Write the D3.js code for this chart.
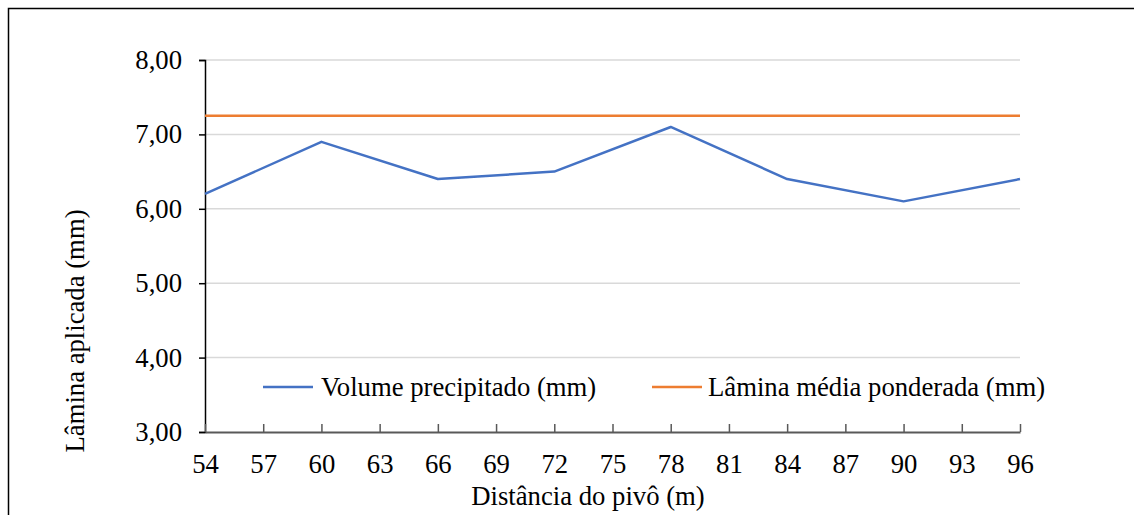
<!DOCTYPE html>
<html><head><meta charset="utf-8">
<script src="https://cdn.jsdelivr.net/npm/d3@7"></script>
<style>body{margin:0;background:#fff}svg{display:block}text{font-family:"Liberation Serif","Times New Roman",serif;fill:#000}</style>
</head><body><svg id="c" width="1134" height="515"></svg>
<script>
const distances = [54, 60, 66, 72, 78, 84, 90, 96];
const volume = [6.2, 6.9, 6.4, 6.5, 7.1, 6.4, 6.1, 6.4];
const laminaMedia = 7.25;
const xTicks = [54,57,60,63,66,69,72,75,78,81,84,87,90,93,96];
const yTicks = [3,4,5,6,7,8];
const seriesNames = ["Volume precipitado (mm)", "Lâmina média ponderada (mm)"];
const colors = ["#4472C4", "#ED7D31"];

const svg = d3.select("#c");
const fs = 26.7;
svg.append("rect").attr("x",8.5).attr("y",8.5).attr("width",1140).attr("height",520)
  .attr("fill","none").attr("stroke","#000").attr("stroke-width",1.5);

const L=205, R=1020, T=60, B=432;
const x = d3.scaleLinear().domain([54,96]).range([L,R]);
const y = d3.scaleLinear().domain([3,8]).range([B,T]);

// gridlines
svg.append("g").selectAll("line").data(yTicks.filter(d=>d>3)).join("line")
  .attr("x1",L).attr("x2",R).attr("y1",d=>y(d)).attr("y2",d=>y(d))
  .attr("stroke","#d9d9d9").attr("stroke-width",1.5);

// y axis
const ya = svg.append("g").attr("transform",`translate(${L},0)`)
  .call(d3.axisLeft(y).tickValues(yTicks).tickSize(6).tickPadding(17)
    .tickFormat(d=>d3.format(".2f")(d).replace(".",",")));
ya.select(".domain").attr("stroke","#000").attr("stroke-width",1.5);
ya.selectAll(".tick line").attr("stroke","#000").attr("stroke-width",1.5);
ya.selectAll("text").attr("font-size",fs).attr("fill","#000");

// x axis
const xa = svg.append("g").attr("transform",`translate(0,${B})`)
  .call(d3.axisBottom(x).tickValues(xTicks).tickSize(-8).tickSizeOuter(0).tickPadding(22).tickFormat(d3.format("d")));
xa.select(".domain").attr("stroke","#595959").attr("stroke-width",2);
xa.selectAll(".tick line").attr("stroke","#595959").attr("stroke-width",1.5);
xa.selectAll("text").attr("font-size",fs).attr("fill","#000");

// series
svg.append("path").datum(d3.zip(distances, volume))
  .attr("d", d3.line().x(d=>x(d[0])).y(d=>y(d[1])))
  .attr("fill","none").attr("stroke",colors[0]).attr("stroke-width",2.5).attr("stroke-linejoin","round");
svg.append("line").attr("x1",x(54)).attr("x2",x(96)).attr("y1",y(laminaMedia)).attr("y2",y(laminaMedia))
  .attr("stroke",colors[1]).attr("stroke-width",2.5);

// legend
const leg = [{x:263, tx:321},{x:652, tx:708}];
leg.forEach((l,i)=>{
  svg.append("line").attr("x1",l.x).attr("x2",l.x+50).attr("y1",387).attr("y2",387)
    .attr("stroke",colors[i]).attr("stroke-width",2.5);
  svg.append("text").attr("x",l.tx).attr("y",396).attr("font-size",fs).text(seriesNames[i]);
});

// titles
svg.append("text").attr("x",588).attr("y",505).attr("text-anchor","middle").attr("font-size",fs).text("Distância do pivô (m)");
svg.append("text").attr("transform","translate(84,331) rotate(-90)").attr("text-anchor","middle").attr("font-size",fs).text("Lâmina aplicada (mm)");
</script></body></html>
